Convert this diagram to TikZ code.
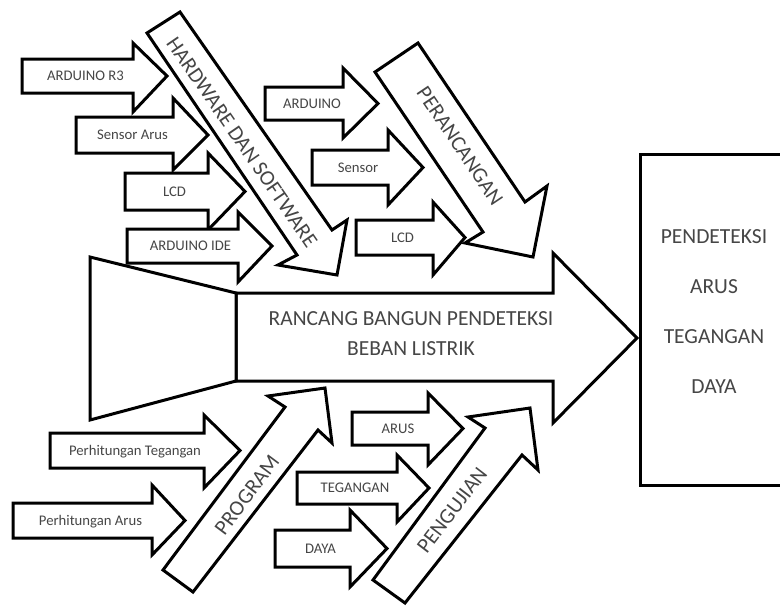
\documentclass[tikz,border=0pt]{standalone}
\usepackage{fontspec}
\setmainfont{Carlito}
\definecolor{txt}{RGB}{70,70,70}
\tikzset{
  shp/.style={draw=black, line width=3pt, fill=white, line join=miter},
  small/.style={font=\fontsize{14.7}{16}\selectfont, text=txt, inner sep=0pt, text height=9.5pt, text depth=0pt},
  big/.style={font=\fontsize{21.5}{24}\selectfont, text=txt, inner sep=0pt, text height=13.8pt, text depth=0pt},
}
% #1 name, #2 left x, #3 top, #4 bottom, #5 head x, #6 barb top, #7 barb bottom, #8 tip x, #9 text
\newcommand\harrow[9]{%
  \draw[shp] (#2,#3) -- (#5,#3) -- (#5,#6) -- (#8,{(#3+#4)/2}) -- (#5,#7) -- (#5,#4) -- (#2,#4) -- cycle;
  \node[small] (#1) at ({(#2+#5)/2+8},{(#3+#4)/2}) {#9};
}
\begin{document}
\begin{tikzpicture}[x=1pt,y=-1pt]
\useasboundingbox (0,0) rectangle (780,606);
\clip (0,0) rectangle (780,606);
\fill[white] (0,0) rectangle (780,606);

% upper left group
\harrow{r3}{22}{59}{93}{133}{43}{112}{167}{ARDUINO R3}
\harrow{sarus}{76}{117}{153}{173}{98}{170}{208}{Sensor Arus}
\harrow{lcda}{125}{173}{210}{208}{153}{230}{245}{LCD}
\harrow{ide}{127}{229}{263}{238}{212}{282}{272}{ARDUINO IDE}

% upper right group
\harrow{ard}{265}{87}{120}{343}{68}{138}{378}{ARDUINO}
\harrow{sens}{312}{150}{185}{388}{130}{205}{423}{Sensor}
\harrow{lcdb}{356}{220}{255}{433}{202}{275}{465}{LCD}

% HARDWARE DAN SOFTWARE
\draw[shp] (147,33) -- (297,255) -- (278,265) -- (337,275) -- (347,220) -- (332,230) -- (180,12) -- cycle;
\node[big, rotate=-55.5] (hw) at (242,142) {HARDWARE DAN SOFTWARE};

% PERANCANGAN
\draw[shp] (375,72) -- (483,232) -- (465,243) -- (533,257) -- (547,186) -- (525,202) -- (418,43) -- cycle;
\node[big, rotate=-56.1] (per) at (460,146) {PERANCANGAN};

% main arrow
\draw[shp] (236,293) -- (553,293) -- (553,253) -- (637,338) -- (553,423) -- (553,381) -- (236,381) -- cycle;
\draw[shp] (90,257) -- (236,293) -- (236,381) -- (90,420) -- cycle;
\node[big] (main1) at (411,319) {RANCANG BANGUN PENDETEKSI};
\node[big] (main2) at (411,349) {BEBAN LISTRIK};

% lower left group
\harrow{ptg}{50}{433}{468}{204}{415}{488}{240}{Perhitungan Tegangan}
\harrow{par}{13}{503}{538}{152}{485}{555}{185}{Perhitungan Arus}

% lower right group
\harrow{arus}{352}{412}{445}{428}{393}{465}{463}{ARUS}
\harrow{teg}{297}{472}{504}{397}{455}{522}{429}{TEGANGAN}
\harrow{daya}{275}{530}{567}{350}{510}{587}{387}{DAYA}

% PROGRAM
\draw[shp] (163,570) -- (285,407) -- (268,396) -- (325,388) -- (332,443) -- (318,430) -- (193,592) -- cycle;
\node[big, rotate=53.2] (prog) at (247,495) {PROGRAM};

% PENGUJIAN
\draw[shp] (373,580) -- (485,428) -- (468,417) -- (530,408) -- (538,470) -- (522,455) -- (405,603) -- cycle;
\node[big, rotate=52.6] (uji) at (452,510) {PENGUJIAN};

% result box
\draw[shp] (640,154) rectangle (790,485);
\node[big] (o1) at (714,237) {PENDETEKSI};
\node[big] (o2) at (714,287) {ARUS};
\node[big] (o3) at (714,337) {TEGANGAN};
\node[big] (o4) at (714,387) {DAYA};
\end{tikzpicture}
\end{document}
